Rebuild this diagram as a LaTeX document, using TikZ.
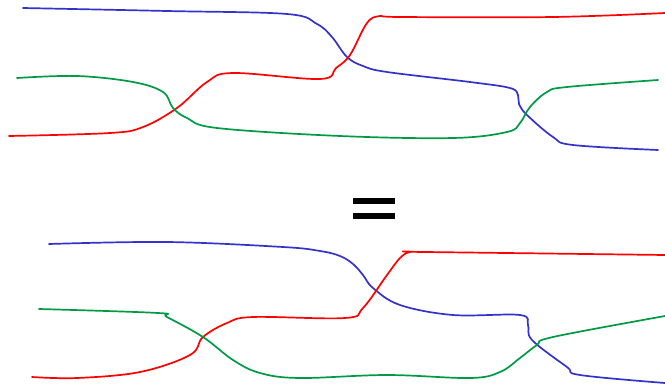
\documentclass[tikz,border=0pt]{standalone}
\begin{document}
\begin{tikzpicture}[x=1pt,y=-1pt,
  strand/.style={line width=1.7pt,line cap=round,line join=round},
  bl/.style={strand,draw={rgb,255:red,51;green,51;blue,204}},
  rd/.style={strand,draw={rgb,255:red,255;green,0;blue,0}},
  gr/.style={strand,draw={rgb,255:red,0;green,153;blue,68}}]
\useasboundingbox (0,0) rectangle (665,386);
% top diagram
\draw[bl] plot[smooth,tension=0.6] coordinates {(23,8) (167,11) (287,14) (317,24) (332,37) (347,57) (363,66) (387,72) (470,82) (510,88) (518,95) (519,104) (527,115) (553,137) (573,145) (658,150)};
\draw[rd] plot[smooth,tension=0.6] coordinates {(9,136) (110,133) (143,127) (177,108) (207,82) (233,73) (320,79) (336,68) (350,55) (367,23) (380,16) (400,17) (553,17) (665,13)};
\draw[gr] plot[smooth,tension=0.6] coordinates {(17,78) (77,76) (133,82) (163,92) (173,108) (187,118) (217,128) (340,136) (453,138) (507,132) (520,123) (530,107) (547,92) (567,87) (658,80)};
% equals sign
\fill (353,198) rectangle (395,204);
\fill (353,213) rectangle (395,219);
% bottom diagram
\draw[bl] plot[smooth,tension=0.6] coordinates {(49,244) (167,242) (283,247) (320,251) (340,256) (353,264) (363,275) (373,288) (400,305) (453,315) (520,315) (528,325) (532,340) (567,367) (580,375) (665,383)};
\draw[rd] plot[smooth,tension=0.6] coordinates {(32,377) (77,378) (140,372) (190,355) (203,337) (227,323) (253,317) (345,318) (363,308) (387,275) (400,258) (410,252) (425,252) (665,255)};
\draw[gr] plot[smooth,tension=0.6] coordinates {(39,309) (158,313) (167,317) (203,337) (233,360) (260,373) (300,378) (387,375) (470,378) (500,372) (520,358) (537,345) (553,337) (665,316)};
\end{tikzpicture}
\end{document}
